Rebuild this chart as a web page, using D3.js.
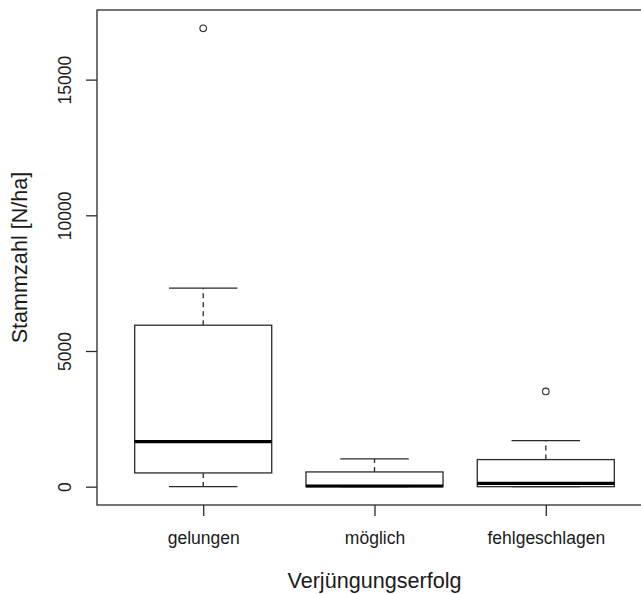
<!DOCTYPE html>
<html>
<head>
<meta charset="utf-8">
<script src="https://cdn.jsdelivr.net/npm/d3@7"></script>
<style>
  html, body { margin: 0; padding: 0; background: #fff; }
  svg { display: block; }
  text { font-family: "Liberation Sans", Arial, sans-serif; fill: #1a1a1a; }
</style>
</head>
<body>
<svg id="chart" width="641" height="594"></svg>
<script>
// ---- data ----
const categories   = ["gelungen", "möglich", "fehlgeschlagen"];
const whiskerLow   = [0, 0, 0];
const q1           = [506, 0, 0];
const median       = [1663, 25, 122];
const q3           = [5950, 543, 998];
const whiskerHigh  = [7317, 1023, 1700];
const outliers     = [[16890], [], [3511]];
const yTicks       = [0, 5000, 10000, 15000];
const xTitle = "Verjüngungserfolg";
const yTitle = "Stammzahl [N/ha]";

(function () {
const svg = d3.select("#chart");
const mL = 97, mT = 10, mR = 652, mB = 505;
const ink = "#2b2b2b";

const allVals = [].concat(whiskerLow, whiskerHigh, ...outliers);
const yMin = d3.min(allVals), yMax = d3.max(allVals);
const pad = 0.04 * (yMax - yMin);
const y = d3.scaleLinear().domain([yMin - pad, yMax + pad]).range([mB, mT]);
const n = categories.length;
const xpad = 0.04 * n;
const x = d3.scaleLinear().domain([0.5 - xpad, n + 0.5 + xpad]).range([mL, mR]);
const unit = x(2) - x(1);
const boxW = 0.8 * unit, capW = 0.4 * unit;

const data = categories.map((c, i) => ({
  c, i: i + 1, lo: whiskerLow[i], q1: q1[i], med: median[i], q3: q3[i], hi: whiskerHigh[i], out: outliers[i]
}));

const g = svg.append("g");
data.forEach(d => {
  const cx = x(d.i);
  g.append("line").attr("x1", cx).attr("x2", cx).attr("y1", y(d.q3)).attr("y2", y(d.hi))
    .attr("stroke", ink).attr("stroke-width", 1.3).attr("stroke-dasharray", "5,4");
  g.append("line").attr("x1", cx).attr("x2", cx).attr("y1", y(d.q1)).attr("y2", y(d.lo))
    .attr("stroke", ink).attr("stroke-width", 1.3).attr("stroke-dasharray", "5,4");
  [d.lo, d.hi].forEach(v => {
    g.append("line").attr("x1", cx - capW / 2).attr("x2", cx + capW / 2).attr("y1", y(v)).attr("y2", y(v))
      .attr("stroke", ink).attr("stroke-width", 1.3);
  });
  g.append("rect").attr("x", cx - boxW / 2).attr("width", boxW)
    .attr("y", y(d.q3)).attr("height", y(d.q1) - y(d.q3))
    .attr("fill", "#fff").attr("stroke", ink).attr("stroke-width", 1.3);
  g.append("line").attr("x1", cx - boxW / 2).attr("x2", cx + boxW / 2).attr("y1", y(d.med)).attr("y2", y(d.med))
    .attr("stroke", "#000").attr("stroke-width", 3.2);
  d.out.forEach(v => {
    g.append("circle").attr("cx", cx).attr("cy", y(v)).attr("r", 3.3)
      .attr("fill", "none").attr("stroke", ink).attr("stroke-width", 1.1);
  });
});

svg.append("rect").attr("x", mL).attr("y", mT).attr("width", mR - mL).attr("height", mB - mT)
  .attr("fill", "none").attr("stroke", ink).attr("stroke-width", 1.3);

const yAxis = svg.append("g").attr("transform", `translate(${mL},0)`)
  .call(d3.axisLeft(y).tickValues(yTicks).tickSize(11).tickFormat(d3.format("d")));
yAxis.select(".domain").remove();
yAxis.selectAll(".tick line").attr("stroke", ink).attr("stroke-width", 1.3);
yAxis.selectAll(".tick text")
  .attr("transform", "rotate(-90)").attr("text-anchor", "middle")
  .attr("x", 0).attr("y", -32).attr("dy", "0.35em")
  .style("font-size", "17.5px").style("font-family", "'Liberation Sans', Arial, sans-serif").attr("fill", "#1a1a1a");

const xAxis = svg.append("g").attr("transform", `translate(0,${mB})`)
  .call(d3.axisBottom(x).tickValues(data.map(d => d.i)).tickSize(11).tickFormat(i => categories[i - 1]));
xAxis.select(".domain").remove();
xAxis.selectAll(".tick line").attr("stroke", ink).attr("stroke-width", 1.3);
xAxis.selectAll(".tick text")
  .attr("y", 33).attr("dy", "0.35em")
  .style("font-size", "17.5px").style("font-family", "'Liberation Sans', Arial, sans-serif").attr("fill", "#1a1a1a");

svg.append("text").attr("x", (mL + mR) / 2).attr("y", 580).attr("dy", "0.35em")
  .attr("text-anchor", "middle").style("font-size", "21.6px").text(xTitle);
svg.append("text").attr("transform", `translate(19,${(mT + mB) / 2}) rotate(-90)`)
  .attr("dy", "0.35em").attr("text-anchor", "middle").style("font-size", "21.6px").text(yTitle);
})();
</script>
</body>
</html>
